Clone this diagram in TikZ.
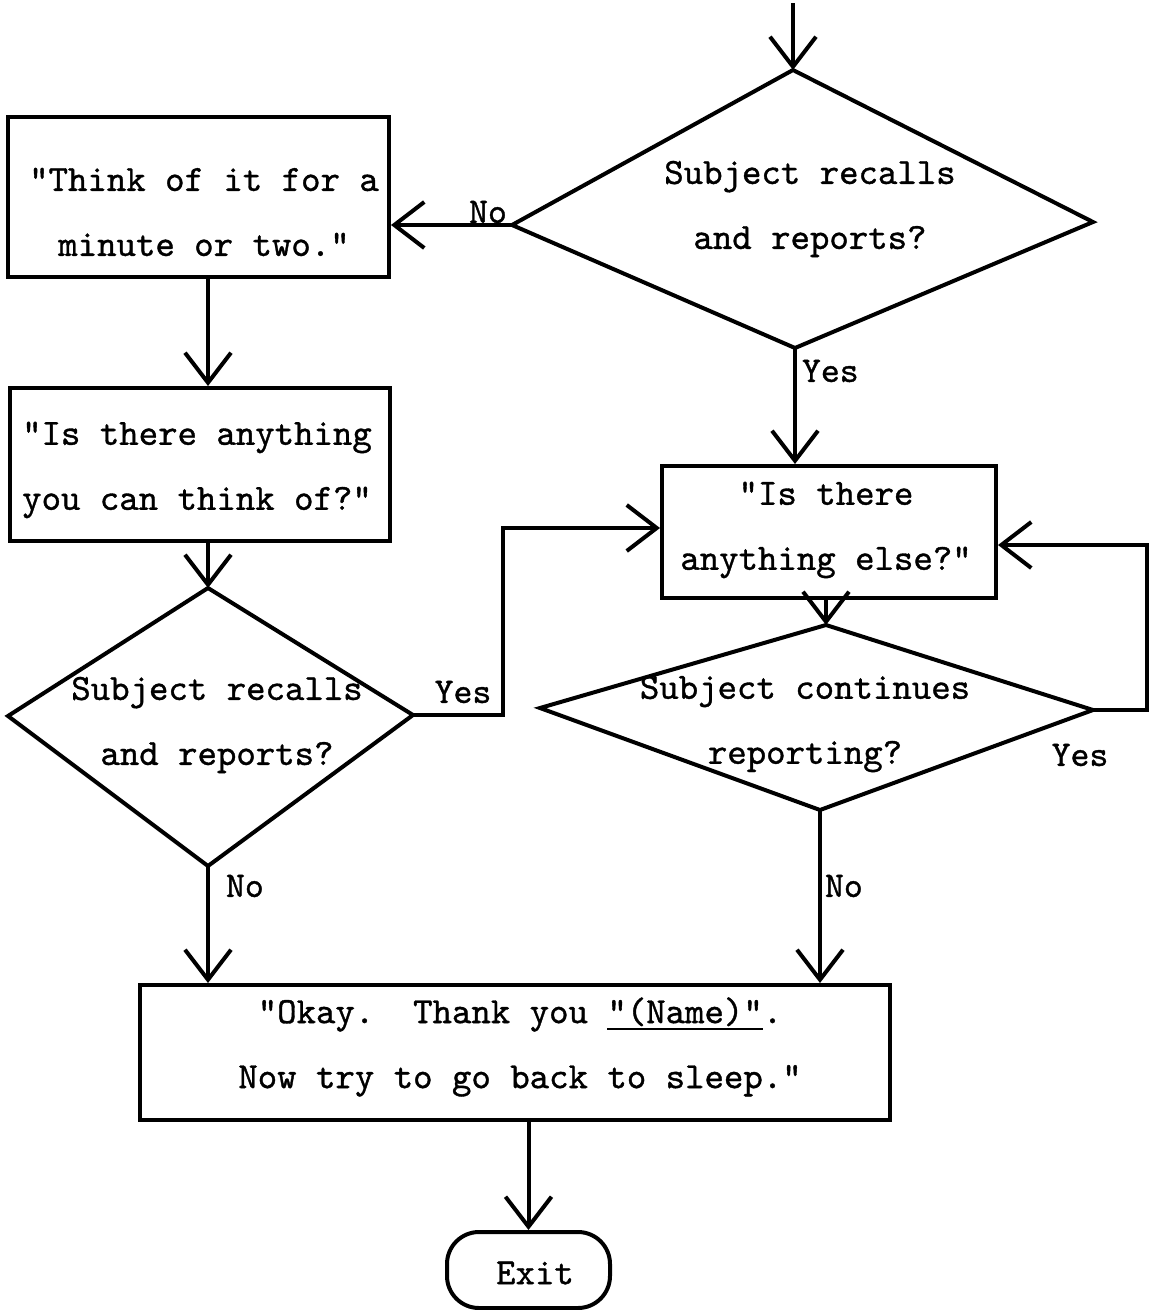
\documentclass[tikz,border=0pt]{standalone}
\usepackage{fontspec}
\newfontfamily\tw{lmmono10-regular.otf}[FakeBold=1.0]
\usetikzlibrary{arrows.meta,calc}
\newcommand\myul[1]{\setbox0\hbox{#1}\rlap{\raisebox{-7pt}{\rule{\wd0}{2.2pt}}}\box0}
\begin{document}
\begin{tikzpicture}[x=1pt,y=-1pt,line width=4pt,
  box/.style={draw,rectangle,inner sep=0pt},
  txt/.style={font=\tw\fontsize{37}{65}\selectfont,align=center,inner sep=0pt},
  lbl/.style={font=\tw\fontsize{36}{40}\selectfont,inner sep=0pt},
  arr/.style={-{Straight Barb[length=30pt,width=46pt]}}]
\useasboundingbox (0,0) rectangle (1156,1310);

% boxes
\node[box,minimum width=381,minimum height=160] (B1) at (198.5,197) {};
\node[box,minimum width=380,minimum height=153] (B2) at (200,464.5) {};
\node[box,minimum width=334,minimum height=132] (B3) at (829,532) {};
\node[box,minimum width=750,minimum height=135] (B4) at (515,1052.5) {};
\node[draw,rectangle,rounded corners=32pt,minimum width=163,minimum height=76,inner sep=0pt] (EX) at (528.5,1270) {};

% diamonds
\coordinate (t1) at (793,70);  \coordinate (r1) at (1093,222);
\coordinate (b1) at (795,348); \coordinate (l1) at (512,225);
\coordinate (t2) at (208,588); \coordinate (r2) at (413,715);
\coordinate (b2) at (208,866); \coordinate (l2) at (8,716);
\coordinate (t3) at (826,625); \coordinate (r3) at (1093,710);
\coordinate (b3) at (820,810); \coordinate (l3) at (540,708);
\draw (t1) -- (r1) -- (b1) -- (l1) -- cycle;
\draw (t2) -- (r2) -- (b2) -- (l2) -- cycle;
\draw (t3) -- (r3) -- (b3) -- (l3) -- cycle;

% texts
\node[txt] (T1) at (204,212) {"Think of it for a\\ minute or two."};
\node[txt] (T2) at (197,470) {"Is there anything\\you can think of?"};
\node[txt] (T3) at (826,530) {"Is there\\anything else?"};
\node[txt] (T4) at (520,1047) {"Okay.\ \ Thank you \myul{"(Name)"}.\\Now try to go back to sleep."};
\node[txt] (TD1) at (810,209) {Subject recalls\\and reports?};
\node[txt] (TD2) at (217,725) {Subject recalls\\and reports?};
\node[txt] (TD3) at (805,724) {Subject continues\\reporting?};
\node[txt] (TE) at (535,1273) {Exit};

% connectors
\coordinate (start) at (791,3);
\draw[arr] (t1 |- start) -- (t1);
\draw[arr] (l1) -- (l1 -| B1.east);
\draw[arr] (b1) -- (b1 |- B3.north);
\draw[arr] (t2 |- B1.south) -- (t2 |- B2.north);
\draw[arr] (t2 |- B2.south) -- (t2);
\coordinate (yL) at (503,528);
\draw[arr] (r2) -| (yL) -- (yL -| B3.west);
\coordinate (yR) at (1147,545);
\draw[arr] (r3) -| (yR) -- (yR -| B3.east);
\draw[arr] (t3 |- B3.south) -- (t3);
\draw[arr] (b2) -- (b2 |- B4.north);
\draw[arr] (b3) -- (b3 |- B4.north);
\draw[arr] (EX.north |- B4.south) -- (EX.north);

% labels
\node[lbl] (L1) at (488,212) {No};
\node[lbl,anchor=west] (L2) at (800,371) {Yes};
\node[lbl] (L3) at (463,692) {Yes};
\node[lbl] (L4) at (1080,755) {Yes};
\node[lbl,anchor=west] (L5) at (224,886) {No};
\node[lbl,anchor=west] (L6) at (823,886) {No};
\end{tikzpicture}
\end{document}
